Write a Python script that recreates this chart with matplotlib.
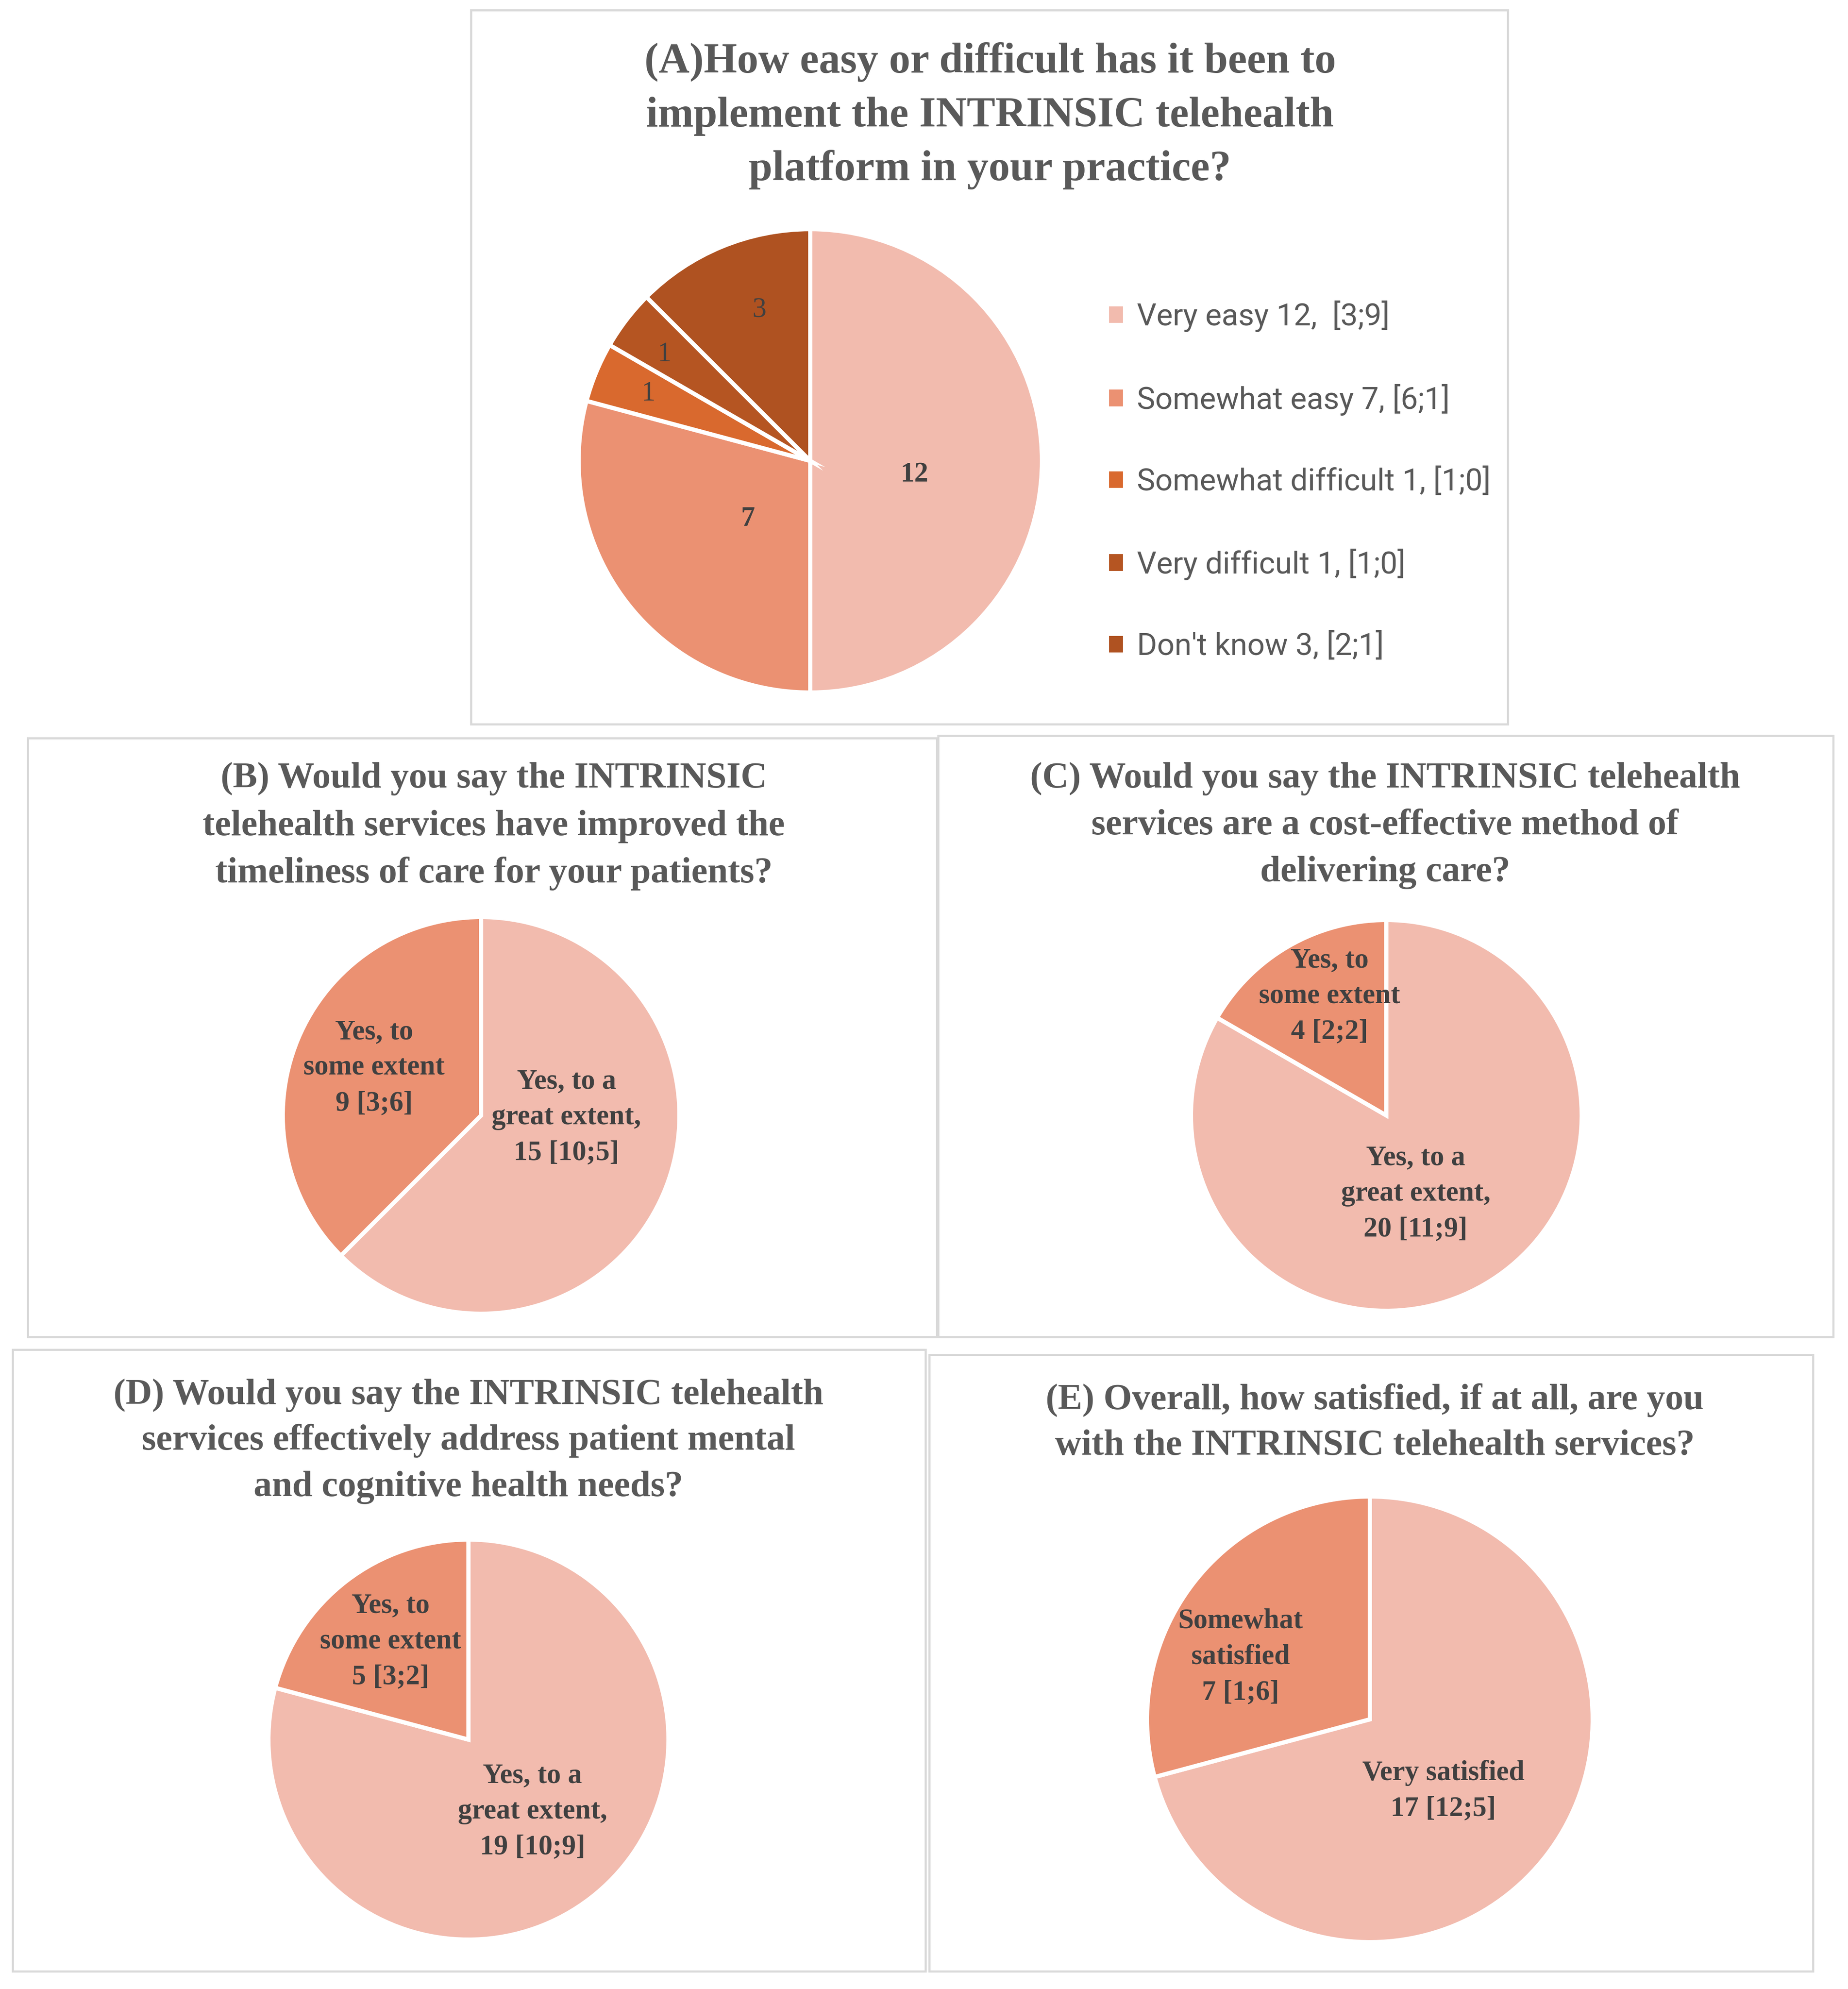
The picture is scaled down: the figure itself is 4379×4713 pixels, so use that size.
import matplotlib.pyplot as plt
from matplotlib.patches import Patch, Rectangle

W, H = 4379, 4713
DPI = 300

# --- data -------------------------------------------------------------
A_CATEGORIES = ["Very easy", "Somewhat easy", "Somewhat difficult",
                "Very difficult", "Don't know"]
A_VALUES = [12, 7, 1, 1, 3]
A_SPLITS = ["[3;9]", "[6;1]", "[1;0]", "[1;0]", "[2;1]"]
A_LEGEND = ["Very easy 12,  [3;9]", "Somewhat easy 7, [6;1]",
            "Somewhat difficult 1, [1;0]", "Very difficult 1, [1;0]",
            "Don't know 3, [2;1]"]

B_VALUES = [15, 9]
B_LABELS = ["Yes, to a\ngreat extent,\n15 [10;5]", "Yes, to\nsome extent\n9 [3;6]"]

C_VALUES = [20, 4]
C_LABELS = ["Yes, to a\ngreat extent,\n20 [11;9]", "Yes, to\nsome extent\n4 [2;2]"]

D_VALUES = [19, 5]
D_LABELS = ["Yes, to a\ngreat extent,\n19 [10;9]", "Yes, to\nsome extent\n5 [3;2]"]

E_VALUES = [17, 7]
E_LABELS = ["Very satisfied\n17 [12;5]", "Somewhat\nsatisfied\n7 [1;6]"]

TITLES = {
    "A": ["(A)How easy or difficult has it been to",
          "implement the INTRINSIC telehealth",
          "platform in your practice?"],
    "B": ["(B) Would you say the INTRINSIC",
          "telehealth services have improved the",
          "timeliness of care for your patients?"],
    "C": ["(C) Would you say the INTRINSIC telehealth",
          "services are a cost-effective method of",
          "delivering care?"],
    "D": ["(D) Would you say the INTRINSIC telehealth",
          "services effectively address patient mental",
          "and cognitive health needs?"],
    "E": ["(E) Overall, how satisfied, if at all, are you",
          "with the INTRINSIC telehealth services?"],
}

# --- style ------------------------------------------------------------
COLORS = ["#F2BBAE", "#EB9172", "#D9692E", "#B55522", "#AF5221"]
TEXT = "#595959"
LABEL = "#404040"
BORDER = "#D9D9D9"
SERIF = ["Liberation Serif", "DejaVu Serif"]
SANS = ["Roboto", "DejaVu Sans"]

# layout in pixels: box (x0, y0, x1, y1), title line centres, pie centre, radius
PANELS = {
    "A": dict(box=(1116, 24, 3573, 1716), tx=2346, ty=[147, 276, 402],
              c=(1920, 1092), r=549, ts=24.3),
    "B": dict(box=(66, 1749, 2220, 3168), tx=1170, ty=[1845, 1959, 2070],
              c=(1140, 2643), r=470, ts=20.8),
    "C": dict(box=(2223, 1743, 4344, 3168), tx=3282, ty=[1845, 1956, 2067],
              c=(3285, 2643), r=463, ts=20.8),
    "D": dict(box=(30, 3198, 2193, 4671), tx=1110, ty=[3306, 3414, 3525],
              c=(1110, 4122), r=474, ts=20.8),
    "E": dict(box=(2202, 3210, 4296, 4671), tx=3258, ty=[3318, 3426],
              c=(3246, 4074), r=528, ts=20.8),
}

# label offsets in radius units
OFFSETS = {
    "A": [(0.45, -0.06), (-0.27, -0.25), (-0.70, 0.29), (-0.63, 0.46), (-0.22, 0.65)],
    "B": [(0.43, -0.01), (-0.54, 0.24)],
    "C": [(0.15, -0.40), (-0.29, 0.61)],
    "D": [(0.32, -0.36), (-0.39, 0.49)],
    "E": [(0.33, -0.32), (-0.58, 0.28)],
}


def fx(x):
    return x / W


def fy(y):
    return 1 - y / H


def draw_box(fig, box):
    x0, y0, x1, y1 = box
    fig.patches.append(Rectangle((fx(x0), fy(y1)), fx(x1) - fx(x0), fy(y0) - fy(y1),
                                 transform=fig.transFigure, fill=False,
                                 edgecolor=BORDER, linewidth=1.2, zorder=0))


def draw_title(fig, key):
    p = PANELS[key]
    for line, y in zip(TITLES[key], p["ty"]):
        fig.text(fx(p["tx"]), fy(y), line, ha="center", va="center",
                 fontsize=p["ts"], fontweight="bold", color=TEXT, family=SERIF)


def pie_axes(fig, key):
    p = PANELS[key]
    cx, cy = p["c"]
    r = p["r"]
    return fig.add_axes([fx(cx - r), fy(cy + r), 2 * r / W, 2 * r / H])


def draw_pie(fig, key, values, labels, bold):
    ax = pie_axes(fig, key)
    ax.pie(values, colors=COLORS[:len(values)], startangle=90, counterclock=False,
           radius=1.0, wedgeprops=dict(edgecolor="white", linewidth=2.4))
    ax.set_xlim(-1, 1)
    ax.set_ylim(-1, 1)
    ax.set_aspect("equal")
    ax.axis("off")
    for text, (dx, dy), b in zip(labels, OFFSETS[key], bold):
        ax.text(dx, dy, text, ha="center", va="center", fontsize=16,
                fontweight="bold" if b else "normal", color=LABEL,
                family=SERIF, linespacing=1.5)
    return ax


fig = plt.figure(figsize=(W / DPI, H / DPI), dpi=DPI)
fig.patch.set_facecolor("white")

for key in PANELS:
    draw_box(fig, PANELS[key]["box"])
    draw_title(fig, key)

draw_pie(fig, "A", A_VALUES, [str(v) for v in A_VALUES],
         [True, True, False, False, False])
draw_pie(fig, "B", B_VALUES, B_LABELS, [True, True])
draw_pie(fig, "C", C_VALUES, C_LABELS, [True, True])
draw_pie(fig, "D", D_VALUES, D_LABELS, [True, True])
draw_pie(fig, "E", E_VALUES, E_LABELS, [True, True])

handles = [Patch(facecolor=c, edgecolor="none") for c in COLORS]
fig.legend(handles, A_LEGEND, loc="center left",
           bbox_to_anchor=(fx(2592), fy(1140)), frameon=False,
           prop=dict(family=SANS, size=17.5), labelcolor=TEXT,
           handlelength=0.45, handleheight=0.45, handletextpad=0.45,
           labelspacing=1.68, borderpad=0)

fig.savefig("out.png", dpi=DPI, facecolor="white")
